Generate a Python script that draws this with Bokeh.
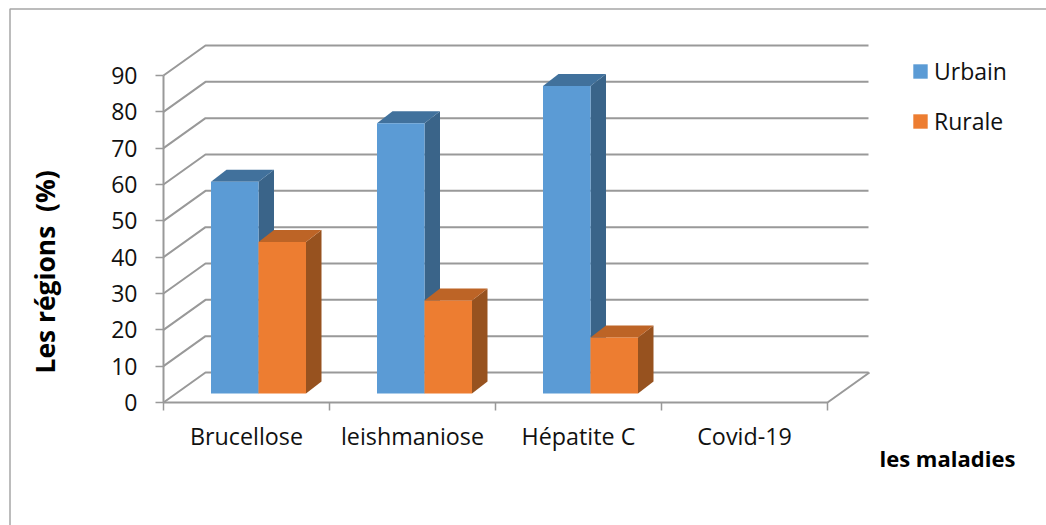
from bokeh.embed import file_html
from bokeh.models import FixedTicker, Label, Legend, LegendItem, LinearAxis, Range1d
from bokeh.plotting import figure
from bokeh.resources import INLINE

# Data
categories = ["Brucellose", "leishmaniose", "Hépatite C", "Covid-19"]
urbain = [58.3, 74.4, 84.6, None]
rurale = [41.7, 25.6, 15.4, None]
value_ticks = [0, 10, 20, 30, 40, 50, 60, 70, 80, 90]

# Canvas size and position of the value/category origin, in pixels
WIDTH, HEIGHT = 1046, 525
ORIGIN_X, ORIGIN_Y = 163, 402
UNIT_X = 166.0            # pixels per category slot
UNIT_Y = 327 / 90         # pixels per percentage point

# Oblique projection offsets, in data units
WALL_DX = 42 / UNIT_X     # floor depth
WALL_DY = 30 / UNIT_Y
WALL_END = 705 / UNIT_X   # right end of the back wall
BAR_Z_DX = 12 / UNIT_X    # front face of the bars behind the front edge
BAR_Z_DY = 9 / UNIT_Y
BAR_DX = 15.5 / UNIT_X    # bar depth
BAR_DY = 12 / UNIT_Y
BAR_GAP = 35.5 / UNIT_X   # from slot start to first bar, before the depth shift
BAR_W = 47.5 / UNIT_X

GRID = "#999999"
FONT = "Open Sans"
BLUE = ("#5b9bd5", "#41719c", "#3a6489")   # front, top, side
ORANGE = ("#ed7d31", "#bd6426", "#97521f")


def cx(px):
    return (px - ORIGIN_X) / UNIT_X


def cy(px):
    return (ORIGIN_Y - px) / UNIT_Y


# The frame fills the whole canvas; the axes are pinned at the origin
p = figure(width=WIDTH, height=HEIGHT, output_backend="svg", toolbar_location=None,
           x_axis_type=None, y_axis_type=None,
           x_range=Range1d(cx(0), cx(WIDTH)), y_range=Range1d(cy(HEIGHT), cy(0)),
           min_border=0, outline_line_color=None)
p.grid.visible = False

# Chart-area border: only its top and left edges lie on the canvas
p.line([cx(9.5), cx(9.5), cx(WIDTH)], [cy(HEIGHT), cy(8.5), cy(8.5)],
       line_color="#a6a6a6", line_width=1.5)

# Back wall and side wall gridlines
slots = len(categories)
wall_xs = [[0, WALL_DX, WALL_END] for _ in value_ticks]
wall_ys = [[v, v + WALL_DY, v + WALL_DY] for v in value_ticks]
p.multi_line(wall_xs, wall_ys, line_color=GRID, line_width=2)

# Floor: front edge and right-hand edge
p.line([0, slots, slots + WALL_DX], [0, 0, WALL_DY], line_color=GRID, line_width=2)


def add_bar(slot, offset, val, colors):
    x0 = slot + BAR_GAP + BAR_Z_DX + offset * BAR_W
    x1 = x0 + BAR_W
    base = BAR_Z_DY
    top = base + val
    # side face
    p.patch([x1, x1 + BAR_DX, x1 + BAR_DX, x1],
            [base, base + BAR_DY, top + BAR_DY, top],
            fill_color=colors[2], line_color=None)
    # top face
    p.patch([x0, x1, x1 + BAR_DX, x0 + BAR_DX],
            [top, top, top + BAR_DY, top + BAR_DY],
            fill_color=colors[1], line_color=None)
    # front face
    return p.quad(left=[x0], right=[x1], bottom=[base], top=[top],
                  fill_color=colors[0], line_color=None)


legend_blue = legend_orange = None
for i in range(slots):
    if urbain[i] is not None:
        legend_blue = add_bar(i, 0, urbain[i], BLUE)
    if rurale[i] is not None:
        legend_orange = add_bar(i, 1, rurale[i], ORANGE)

# Axes
y_axis = LinearAxis(ticker=FixedTicker(ticks=value_ticks), bounds=(0, 90), fixed_location=0,
                    axis_line_color=GRID, axis_line_width=2,
                    major_tick_line_color=GRID, major_tick_line_width=1.5,
                    major_tick_out=8, major_tick_in=0, minor_tick_line_color=None,
                    major_label_standoff=18, major_label_text_font=FONT,
                    major_label_text_font_size="23px", major_label_text_color="#111111")
p.add_layout(y_axis, "left")

centres = [i + 0.5 for i in range(slots)]
x_axis = LinearAxis(ticker=FixedTicker(ticks=centres, minor_ticks=list(range(slots + 1))),
                    bounds=(0, slots), fixed_location=0,
                    major_label_overrides={c: n for c, n in zip(centres, categories)},
                    axis_line_color=None, major_tick_line_color=None,
                    major_tick_out=0, major_tick_in=0,
                    minor_tick_line_color=GRID, minor_tick_line_width=1.5,
                    minor_tick_out=8, minor_tick_in=0,
                    major_label_standoff=9, major_label_text_font=FONT,
                    major_label_text_font_size="23.3px", major_label_text_color="#111111")
p.add_layout(x_axis, "below")

# Axis titles
p.add_layout(Label(x=62, y=HEIGHT - 373, x_units="screen", y_units="screen",
                   angle=90, angle_units="deg",
                   text="Les régions\u00a0 (%)", text_font=FONT, text_font_style="bold",
                   text_font_size="26.4px", text_color="#000000"))
p.add_layout(Label(x=879, y=HEIGHT - 472, x_units="screen", y_units="screen",
                   text="les maladies", text_font=FONT, text_font_style="bold",
                   text_font_size="22px", text_color="#000000"))

# Legend
legend = Legend(items=[LegendItem(label="Urbain", renderers=[legend_blue]),
                       LegendItem(label="Rurale", renderers=[legend_orange])],
                location=(911, HEIGHT - 137), border_line_color=None, background_fill_alpha=0,
                glyph_width=18, glyph_height=18, label_text_font=FONT,
                label_text_font_size="23px", label_text_color="#111111",
                spacing=18, padding=0, margin=0, label_standoff=5)
p.add_layout(legend, "center")

open("out.html", "w").write(file_html(p, INLINE))
